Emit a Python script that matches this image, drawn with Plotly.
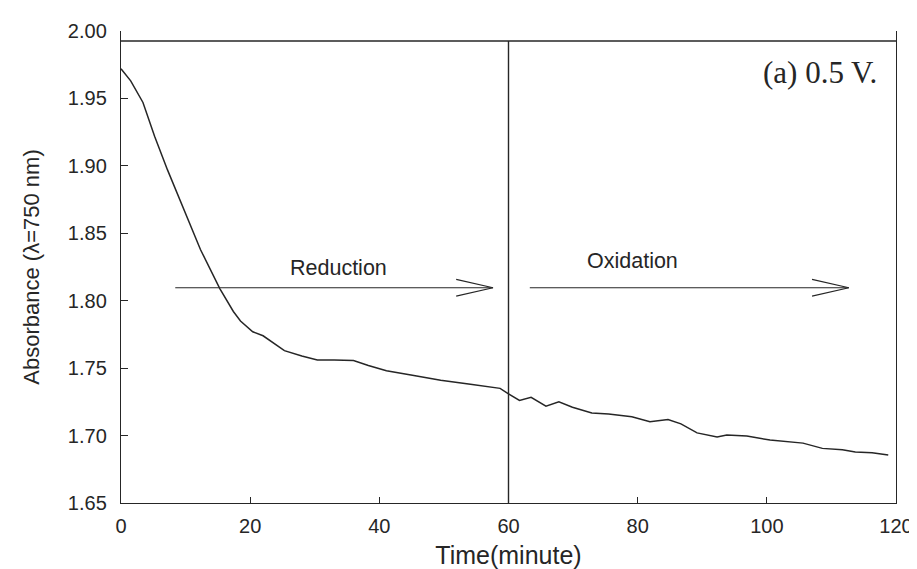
import plotly.graph_objects as go

# Data
time_min = [0, 1.5, 3.4, 5.2, 7.2, 9.7, 12.3, 15.3, 17.4, 18.5, 20.4, 22, 25.3, 28,
            30.4, 33, 36, 38.3, 41.1, 44.9, 49.5, 54.1, 58.7, 60, 61.7, 63.5, 65.8,
            67.8, 69.9, 72.9, 75.5, 79.1, 81.9, 84.7, 86.7, 89.2, 92.3, 93.8, 96.9,
            100.5, 105.6, 108.6, 111.7, 113.7, 116.3, 118.8]
absorbance = [1.972, 1.963, 1.947, 1.922, 1.897, 1.868, 1.838, 1.809, 1.792, 1.785,
              1.777, 1.774, 1.763, 1.759, 1.756, 1.756, 1.7557, 1.752, 1.748, 1.745,
              1.741, 1.738, 1.735, 1.731, 1.726, 1.7284, 1.7218, 1.725, 1.721, 1.7168,
              1.716, 1.7139, 1.7102, 1.7119, 1.7087, 1.702, 1.699, 1.7004, 1.6996,
              1.6967, 1.6944, 1.6905, 1.6895, 1.6878, 1.6873, 1.6856]

x_ticks = [0, 20, 40, 60, 80, 100, 120]
y_ticks = [1.65, 1.70, 1.75, 1.80, 1.85, 1.90, 1.95, 2.00]

switch_time = 60
top_line_y = 1.9926
arrow_y = 1.8096
reduction_arrow = (8.4, 57.6)
oxidation_arrow = (63.3, 112.7)

INK = "#262626"
AX_FONT = "Liberation Sans, Arial, sans-serif"

fig = go.Figure()
fig.add_trace(go.Scatter(x=time_min, y=absorbance, mode="lines",
                         line=dict(color=INK, width=1.5), showlegend=False,
                         hoverinfo="skip"))

shapes = []
# top frame line and switch line
shapes.append(dict(type="line", xref="x", yref="y", x0=0, x1=120,
                   y0=top_line_y, y1=top_line_y, line=dict(color=INK, width=1.4)))
shapes.append(dict(type="line", xref="x", yref="y", x0=switch_time, x1=switch_time,
                   y0=1.65, y1=top_line_y, line=dict(color=INK, width=1.4)))

head_dx = 5.7
head_dy = 0.0062
for (xs, xe) in (reduction_arrow, oxidation_arrow):
    shapes.append(dict(type="line", xref="x", yref="y", x0=xs, x1=xe,
                       y0=arrow_y, y1=arrow_y, line=dict(color=INK, width=1.2)))
    shapes.append(dict(type="path", xref="x", yref="y",
                       path=f"M {xe-head_dx},{arrow_y+head_dy} L {xe},{arrow_y} L {xe-head_dx},{arrow_y-head_dy}",
                       line=dict(color=INK, width=1.2)))

annotations = [
    dict(x=33.6, y=1.8243, xref="x", yref="y", text="Reduction", showarrow=False,
         font=dict(family=AX_FONT, size=21.5, color=INK)),
    dict(x=79.2, y=1.8291, xref="x", yref="y", text="Oxidation", showarrow=False,
         font=dict(family=AX_FONT, size=21.5, color=INK)),
    dict(x=117.3, y=1.969, xref="x", yref="y", text="(a) 0.5 V.", showarrow=False,
         xanchor="right", font=dict(family="Liberation Serif, Times New Roman, serif",
                                    size=31, color=INK)),
]

fig.update_layout(
    width=917, height=569,
    margin=dict(l=113, r=19, t=21, b=74),
    paper_bgcolor="white", plot_bgcolor="white",
    shapes=shapes, annotations=annotations,
    xaxis=dict(range=[0, 120], tickvals=x_ticks, ticktext=[str(v) for v in x_ticks],
               showgrid=False, zeroline=False, showline=True, linecolor=INK, linewidth=1.4,
               ticks="inside", ticklen=6, tickcolor=INK, tickwidth=1.2,
               ticklabelstandoff=5,
               tickfont=dict(family=AX_FONT, size=20, color=INK),
               title=dict(text="Time(minute)", standoff=10,
                          font=dict(family=AX_FONT, size=25, color=INK))),
    yaxis=dict(range=[1.65, 2.00], tickvals=y_ticks,
               ticktext=[f"{v:.2f}" for v in y_ticks],
               showgrid=False, zeroline=False, showline=True, mirror=True,
               linecolor=INK, linewidth=1.4,
               ticks="inside", ticklen=7, tickcolor=INK, tickwidth=1.2,
               ticklabelstandoff=9,
               tickfont=dict(family=AX_FONT, size=20, color=INK),
               title=dict(text="Absorbance (λ=750 nm)", standoff=22,
                          font=dict(family=AX_FONT, size=22, color=INK))),
)

fig.write_html("out.html")
